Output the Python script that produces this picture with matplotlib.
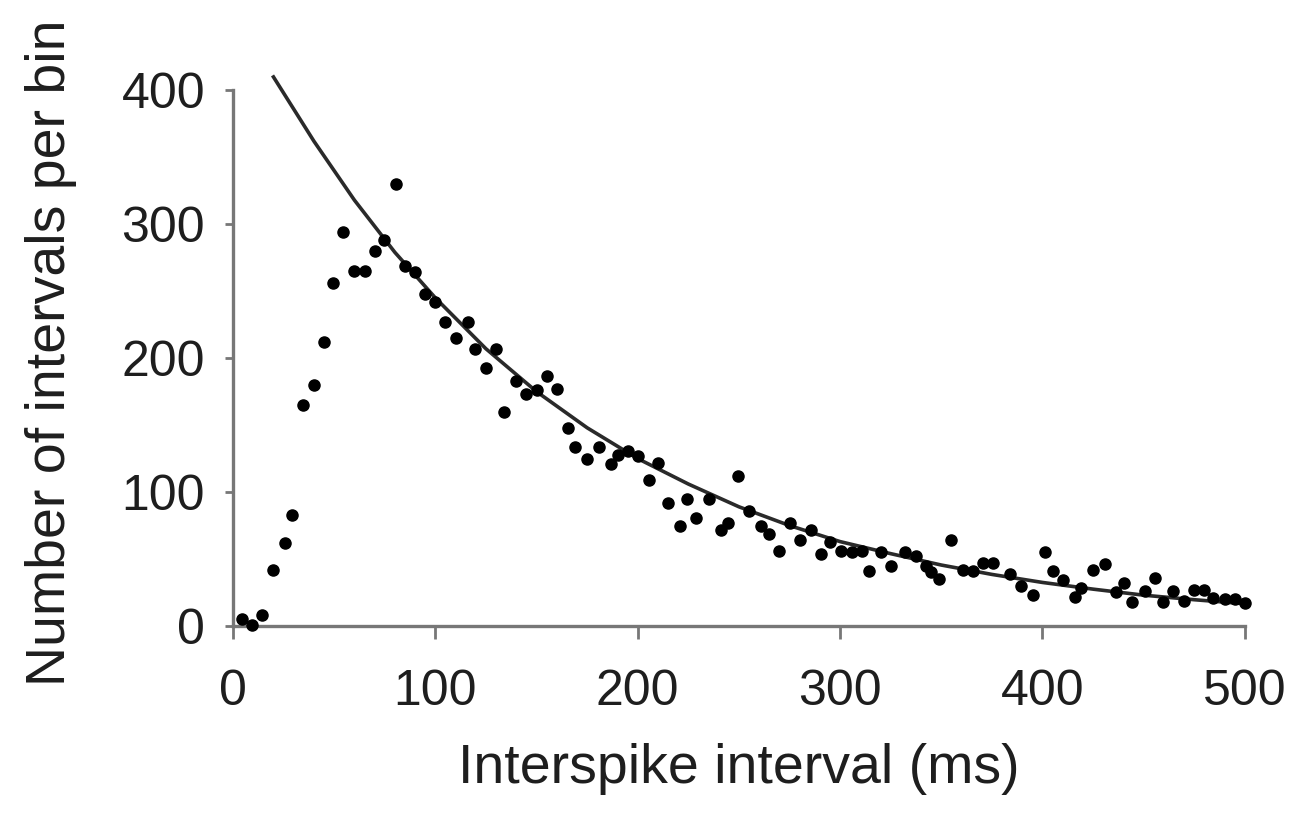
import matplotlib
matplotlib.use("Agg")
import matplotlib.pyplot as plt

# Histogram points (interspike interval in ms, count per bin)
isi_ms = [4.5, 9.5, 14.5, 20, 25.5, 29, 34.5, 40, 45, 49.5, 54.5, 60, 65, 70, 74.5, 80.5,
          85, 90, 95, 100, 105, 110, 116, 119.5, 125, 130, 134, 140, 145, 150, 155, 160,
          165.5, 169, 175, 181, 187, 190, 195, 200, 205.5, 210, 215, 221, 224.5, 229,
          235, 241, 244.5, 249.5, 255, 261, 265, 270, 275, 280, 285.5, 290.5, 295,
          300.5, 306, 311, 314.5, 320, 325, 332, 337.5, 342.5, 345, 349, 355, 360.5,
          365.5, 370.5, 375.5, 384, 389.5, 395.5, 401, 405, 410, 416, 419, 425, 431,
          436.5, 440.5, 444, 450.5, 455.5, 459.5, 464.5, 470, 475, 480, 484.5, 490,
          495, 500]
counts = [5, 1, 8, 42, 62, 83, 165, 180, 212, 256, 294, 265, 265, 280, 288, 330,
          269, 264, 248, 242, 227, 215, 227, 207, 193, 207, 160, 183, 173, 176, 187, 177,
          148, 134, 125, 134, 121, 128, 131, 127, 109, 122, 92, 75, 95, 81,
          95, 72, 77, 112, 86, 75, 69, 56, 77, 64, 72, 54, 63,
          56, 55, 56, 41, 55, 45, 55, 52, 45, 40, 35, 64, 42,
          41, 47, 47, 39, 30, 23, 55, 41, 34, 22, 28, 42, 46,
          25, 32, 18, 26, 36, 18, 26, 19, 27, 27, 21, 20,
          20, 17]

# Fitted curve
fit_ms = [20, 40, 60, 80, 100, 125, 150, 175, 200, 225, 250, 275, 300, 325, 350,
          375, 400, 425, 450, 475, 500]
fit_counts = [410, 362, 318, 279, 245, 207, 175, 148, 125, 106, 89, 75, 63, 54, 45.5,
              38.5, 32.5, 27.5, 23, 19.6, 16.6]

x_ticks = [0, 100, 200, 300, 400, 500]
y_ticks = [0, 100, 200, 300, 400]

plt.rcParams['font.family'] = ['Liberation Sans', 'DejaVu Sans']

fig = plt.figure(figsize=(13.09, 8.14), dpi=100)
ax = fig.add_axes([0.178, 0.231, 0.773, 0.658])

ax.plot(fit_ms, fit_counts, color='#2a2a2a', lw=2.6, clip_on=False, zorder=2)
ax.plot(isi_ms, counts, 'o', color='black', markersize=8, clip_on=False, zorder=3)

ax.set_xlim(0, 500)
ax.set_ylim(0, 400)
ax.set_xticks(x_ticks)
ax.set_yticks(y_ticks)

for s in ['top', 'right']:
    ax.spines[s].set_visible(False)
for s in ['left', 'bottom']:
    ax.spines[s].set_color('#777777')
    ax.spines[s].set_linewidth(2.4)

ax.tick_params(axis='x', direction='out', length=9, width=2, color='#777777',
               labelsize=36, pad=22, labelcolor='#1e1e1e')
ax.tick_params(axis='y', direction='out', length=6, width=2, color='#777777',
               labelsize=36, pad=14, labelcolor='#1e1e1e')

ax.set_xlabel('Interspike interval (ms)', fontsize=40, color='#1e1e1e', labelpad=20)
ax.set_ylabel('Number of intervals per bin', fontsize=40, color='#1e1e1e', labelpad=32)
ax.yaxis.label.set_y(0.51)

fig.savefig('out.png', dpi=100, facecolor='white')
